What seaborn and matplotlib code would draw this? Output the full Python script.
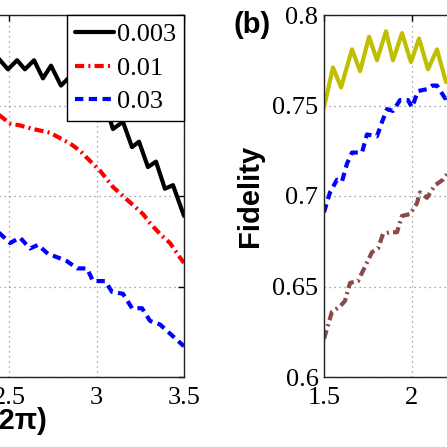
import matplotlib
matplotlib.use('Agg')
import matplotlib.pyplot as plt
import seaborn as sns

# ---- panel (a): fidelity vs time for three noise levels (visible part) ----
a_black_x = [2.44, 2.494, 2.546, 2.591, 2.643, 2.694, 2.740, 2.797, 2.849, 2.906, 2.951,
             3.003, 3.049, 3.094, 3.151, 3.203, 3.243, 3.294, 3.340, 3.391, 3.437, 3.5]
a_black_y = [0.776, 0.770, 0.775, 0.770, 0.775, 0.765, 0.772, 0.761, 0.766, 0.755, 0.760,
             0.748, 0.751, 0.737, 0.741, 0.727, 0.730, 0.716, 0.719, 0.704, 0.706, 0.689]

a_red_x = [2.44, 2.506, 2.563, 2.637, 2.734, 2.791, 2.849, 2.906, 2.946, 3.020, 3.094,
           3.151, 3.209, 3.266, 3.306, 3.363, 3.420, 3.477, 3.5]
a_red_y = [0.745, 0.740, 0.739, 0.737, 0.735, 0.732, 0.729, 0.725, 0.721, 0.714, 0.705,
           0.700, 0.695, 0.690, 0.685, 0.679, 0.674, 0.666, 0.663]

a_blue_x = [2.44, 2.506, 2.563, 2.620, 2.666, 2.723, 2.78, 2.831, 2.889, 2.946, 2.980,
            3.049, 3.089, 3.151, 3.203, 3.260, 3.306, 3.363, 3.420, 3.477, 3.5]
a_blue_y = [0.680, 0.674, 0.677, 0.671, 0.673, 0.668, 0.666, 0.664, 0.660, 0.660, 0.653,
            0.653, 0.647, 0.646, 0.638, 0.638, 0.631, 0.629, 0.624, 0.619, 0.617]

a_labels = ['0.003', '0.01', '0.03']

# ---- panel (b) (visible part) ----
b_yellow_x = [1.5, 1.551, 1.597, 1.659, 1.705, 1.756, 1.801, 1.852, 1.892, 1.943, 1.994,
              2.040, 2.091, 2.142, 2.193, 2.244]
b_yellow_y = [0.749, 0.771, 0.760, 0.781, 0.769, 0.788, 0.775, 0.791, 0.775, 0.790, 0.774,
              0.787, 0.770, 0.781, 0.763, 0.770]

b_blue_x = [1.5, 1.534, 1.574, 1.602, 1.631, 1.659, 1.716, 1.744, 1.801, 1.830, 1.858,
            1.892, 1.932, 1.977, 2.000, 2.034, 2.085, 2.114, 2.142, 2.188, 2.227]
b_blue_y = [0.691, 0.702, 0.709, 0.708, 0.718, 0.724, 0.724, 0.734, 0.733, 0.741, 0.748,
            0.747, 0.753, 0.753, 0.749, 0.758, 0.759, 0.761, 0.761, 0.754, 0.761]

b_brown_x = [1.5, 1.545, 1.591, 1.619, 1.648, 1.693, 1.733, 1.773, 1.807, 1.835, 1.875,
             1.915, 1.943, 1.989, 2.028, 2.045, 2.085, 2.131, 2.176, 2.216]
b_brown_y = [0.621, 0.636, 0.639, 0.642, 0.652, 0.653, 0.661, 0.669, 0.671, 0.679, 0.680,
             0.680, 0.689, 0.690, 0.696, 0.702, 0.699, 0.706, 0.709, 0.714]

x_ticks = [1.5, 2, 2.5, 3, 3.5]
y_ticks = [0.6, 0.65, 0.7, 0.75, 0.8]

sns.set_theme(style='white')
plt.rcParams['font.family'] = ['Liberation Serif', 'DejaVu Serif']
plt.rcParams['text.color'] = 'black'
plt.rcParams['xtick.direction'] = 'in'
plt.rcParams['ytick.direction'] = 'in'

W = H = 447
fig = plt.figure(figsize=(4.47, 4.47), dpi=100)

def px_axes(left, top, right, bottom):
    return fig.add_axes([left / W, 1 - bottom / H, (right - left) / W, (bottom - top) / H])

ax_a = px_axes(-166, 15, 184, 377)
ax_b = px_axes(324, 15, 676, 377)

lw = 3.0
common = dict(lw=lw, estimator=None, solid_joinstyle='round', dash_capstyle='butt')
sns.lineplot(x=a_black_x, y=a_black_y, ax=ax_a, color='black', label=a_labels[0], **common)
sns.lineplot(x=a_red_x, y=a_red_y, ax=ax_a, color='#ff0000',
             linestyle=(0, (2.2, 1.0, 0.5, 1.0)), label=a_labels[1], **common)
sns.lineplot(x=a_blue_x, y=a_blue_y, ax=ax_a, color='#0000ff',
             linestyle=(0, (2.0, 1.3)), label=a_labels[2], **common)

sns.lineplot(x=b_yellow_x, y=b_yellow_y, ax=ax_b, color='#bfbf00', **common)
sns.lineplot(x=b_blue_x, y=b_blue_y, ax=ax_b, color='#0000ff',
             linestyle=(0, (2.0, 1.3)), **common)
sns.lineplot(x=b_brown_x, y=b_brown_y, ax=ax_b, color='#8b4a4a',
             linestyle=(0, (2.2, 1.0, 0.5, 1.0)), **common)

for ax in (ax_a, ax_b):
    ax.set_xlim(1.5, 3.5)
    ax.set_ylim(0.6, 0.8)
    ax.set_xticks(x_ticks)
    ax.set_yticks(y_ticks)
    ax.set_xticklabels(['1.5', '2', '2.5', '3', '3.5'])
    ax.set_yticklabels(['0.6', '0.65', '0.7', '0.75', '0.8'])
    ax.grid(True, color='0.55', linestyle=(0, (1, 3)), linewidth=0.9)
    ax.tick_params(axis='both', which='both', direction='in', length=4, width=1,
                   color='black', labelsize=19, top=True, right=True, labelcolor='black')
    ax.tick_params(axis='x', pad=7)
    ax.tick_params(axis='y', pad=4)
    for s in ax.spines.values():
        s.set_color('#222222')
        s.set_linewidth(1.0)
    ax.set_xlabel('')
    ax.set_ylabel('')

leg = ax_a.legend(loc='upper right', borderaxespad=0, fancybox=False, edgecolor='black',
                  framealpha=1, fontsize=19, handlelength=1.5, handletextpad=0.1,
                  labelspacing=0.38, borderpad=0.3)
leg.get_frame().set_linewidth(1.0)

bold = dict(family=['Liberation Sans', 'DejaVu Sans'], fontweight='bold', fontsize=21,
            color='black')
fig.text(9 / W, 1 - 421 / H, 't (2π)', ha='center', va='center', **bold)
fig.text(250 / W, 1 - 196 / H, 'Fidelity', ha='center', va='center', rotation=90, **bold)
fig.text(252 / W, 1 - 25 / H, '(b)', ha='center', va='center', **bold)

fig.savefig('out.png', dpi=100)
